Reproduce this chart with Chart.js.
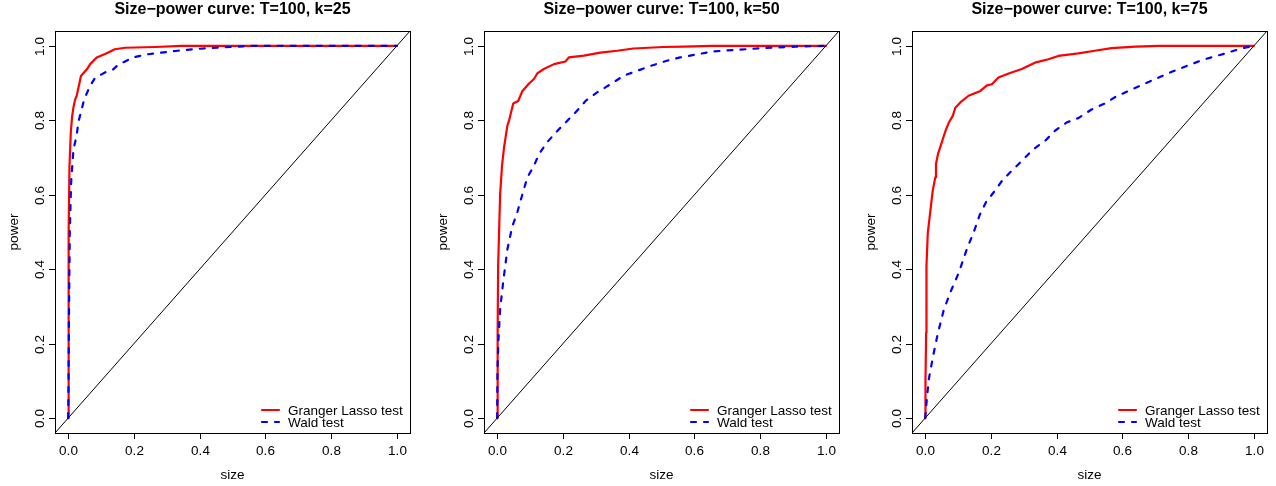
<!DOCTYPE html>
<html>
<head>
<meta charset="utf-8">
<script src="https://cdn.jsdelivr.net/npm/chart.js@4.4.1/dist/chart.umd.min.js"></script>
<style>
    html, body { margin: 0; padding: 0; background: #fff; }
    #wrap { position: relative; width: 1276px; height: 486px; overflow: hidden; }
    #wrap canvas { position: absolute; top: 0; }
</style>
</head>
<body>
<div id="wrap">
    <canvas id="p25" width="419" height="486" style="left:0px"></canvas>
    <canvas id="p50" width="419" height="486" style="left:429px"></canvas>
    <canvas id="p75" width="419" height="486" style="left:857px"></canvas>
</div>
<script>
// axis range / ticks (R style, 4% extension)
const AXIS_MIN = -0.04;
const AXIS_MAX = 1.04;
const TICKS = [0, 0.2, 0.4, 0.6, 0.8, 1.0];
const TICK_LABELS = ['0.0', '0.2', '0.4', '0.6', '0.8', '1.0'];
const DIAG = [AXIS_MIN, AXIS_MAX];

const SERIES_NAMES = ['Granger Lasso test', 'Wald test'];
const TITLES = ['Size\u2212power curve: T=100, k=25', 'Size\u2212power curve: T=100, k=50', 'Size\u2212power curve: T=100, k=75'];

// k = 25
const k25LassoSize = [0, 0.001, 0.002, 0.004, 0.008, 0.012, 0.016, 0.021, 0.026, 0.039, 0.057, 0.067, 0.087, 0.112, 0.122, 0.142, 0.173, 0.264, 0.345, 1.0];
const k25LassoPower = [0, 0.2, 0.5, 0.676, 0.766, 0.81, 0.834, 0.855, 0.866, 0.919, 0.937, 0.951, 0.969, 0.978, 0.982, 0.991, 0.995, 0.997, 1.0, 1.0];
const k25WaldSize = [0, 0.001, 0.003, 0.005, 0.009, 0.016, 0.026, 0.031, 0.036, 0.049, 0.067, 0.082, 0.117, 0.137, 0.152, 0.168, 0.198, 0.238, 0.284, 0.333, 0.394, 0.45, 0.56, 1.0];
const k25WaldPower = [0, 0.08, 0.32, 0.498, 0.632, 0.721, 0.76, 0.795, 0.812, 0.857, 0.893, 0.914, 0.931, 0.937, 0.949, 0.956, 0.969, 0.977, 0.982, 0.987, 0.992, 0.995, 1.0, 1.0];

// k = 50
const k50LassoSize = [0, 0.001, 0.002, 0.003, 0.006, 0.009, 0.015, 0.021, 0.031, 0.036, 0.049, 0.064, 0.077, 0.097, 0.112, 0.122, 0.142, 0.173, 0.208, 0.218, 0.264, 0.314, 0.365, 0.415, 0.506, 0.567, 0.655, 1.0];
const k50LassoPower = [0, 0.12, 0.23, 0.408, 0.504, 0.6, 0.68, 0.727, 0.785, 0.799, 0.845, 0.852, 0.879, 0.899, 0.911, 0.926, 0.938, 0.951, 0.958, 0.969, 0.974, 0.982, 0.987, 0.993, 0.997, 0.998, 1.0, 1.0];
const k50WaldSize = [0, 0.001, 0.004, 0.009, 0.018, 0.031, 0.046, 0.062, 0.077, 0.092, 0.112, 0.127, 0.152, 0.178, 0.208, 0.238, 0.269, 0.304, 0.345, 0.385, 0.426, 0.466, 0.516, 0.557, 0.655, 0.807, 0.908, 1.0];
const k50WaldPower = [0, 0.13, 0.211, 0.292, 0.363, 0.453, 0.515, 0.555, 0.602, 0.647, 0.678, 0.709, 0.741, 0.767, 0.794, 0.821, 0.852, 0.875, 0.897, 0.92, 0.933, 0.946, 0.96, 0.969, 0.985, 0.994, 0.998, 1.0];

// k = 75
const k75LassoSize = [0, 0.001, 0.003, 0.004, 0.008, 0.015, 0.023, 0.031, 0.033, 0.039, 0.052, 0.062, 0.072, 0.084, 0.092, 0.107, 0.132, 0.168, 0.188, 0.203, 0.223, 0.254, 0.294, 0.334, 0.375, 0.405, 0.466, 0.516, 0.567, 0.641, 0.712, 1.0];
const k75LassoPower = [0, 0.1, 0.229, 0.408, 0.497, 0.55, 0.611, 0.647, 0.683, 0.709, 0.745, 0.772, 0.794, 0.812, 0.834, 0.848, 0.866, 0.879, 0.894, 0.897, 0.915, 0.926, 0.938, 0.955, 0.964, 0.973, 0.98, 0.987, 0.994, 0.998, 1.0, 1.0];
const k75WaldSize = [0, 0.005, 0.011, 0.024, 0.039, 0.057, 0.080, 0.102, 0.128, 0.148, 0.166, 0.185, 0.208, 0.235, 0.264, 0.294, 0.329, 0.365, 0.395, 0.43, 0.466, 0.506, 0.546, 0.581, 0.672, 0.752, 0.843, 0.914, 0.965, 1.0];
const k75WaldPower = [0, 0.05, 0.104, 0.166, 0.229, 0.292, 0.345, 0.39, 0.457, 0.5, 0.546, 0.58, 0.606, 0.639, 0.665, 0.691, 0.722, 0.745, 0.772, 0.794, 0.806, 0.829, 0.845, 0.864, 0.9, 0.931, 0.962, 0.98, 0.994, 1.0];

const FONT = '"Liberation Sans", Arial, Helvetica, sans-serif';
const WALD_DASH = [5, 8];

const toPoints = (xs, ys) => xs.map((x, i) => ({ x, y: ys[i] }));

// draws box, ticks, labels, title and legend like base R graphics
const rFrame = {
    id: 'rFrame',
    afterDraw(chart) {
        const { ctx, chartArea: a, scales } = chart;
        const xs = scales.x;
        const ys = scales.y;
        const cx = (a.left + a.right) / 2;
        const cy = (a.top + a.bottom) / 2;

        ctx.save();
        ctx.strokeStyle = '#000';
        ctx.fillStyle = '#000';
        ctx.lineWidth = 1;
        ctx.setLineDash([]);
        ctx.strokeRect(Math.round(a.left) + 0.5, Math.round(a.top) + 0.5, Math.round(a.right - a.left), Math.round(a.bottom - a.top));

        ctx.font = '13.5px ' + FONT;
        ctx.textAlign = 'center';
        ctx.textBaseline = 'alphabetic';
        TICKS.forEach((v, i) => {
            const px = Math.round(xs.getPixelForValue(v)) + 0.5;
            ctx.beginPath();
            ctx.moveTo(px, a.bottom);
            ctx.lineTo(px, a.bottom + 6);
            ctx.stroke();
            ctx.fillText(TICK_LABELS[i], px, a.bottom + 22);

            const py = Math.round(ys.getPixelForValue(v)) + 0.5;
            ctx.beginPath();
            ctx.moveTo(a.left, py);
            ctx.lineTo(a.left - 6, py);
            ctx.stroke();
            ctx.save();
            ctx.translate(a.left - 11.5, py);
            ctx.rotate(-Math.PI / 2);
            ctx.fillText(TICK_LABELS[i], 0, 0);
            ctx.restore();
        });

        ctx.fillText('size', cx, a.bottom + 46);
        ctx.save();
        ctx.translate(a.left - 37, cy);
        ctx.rotate(-Math.PI / 2);
        ctx.fillText('power', 0, 0);
        ctx.restore();

        ctx.font = 'bold 16px ' + FONT;
        ctx.fillText(chart.options.plugins.rTitle.text, cx, 13.5);

        // legend, bottom right, no frame
        ctx.font = '13.5px ' + FONT;
        ctx.textAlign = 'left';
        chart.data.datasets
            .filter((ds) => ds.label)
            .forEach((ds, i) => {
                const ly = a.bottom - 23 + i * 12;
                ctx.strokeStyle = ds.borderColor;
                ctx.lineWidth = ds.borderWidth;
                ctx.lineCap = 'round';
                ctx.setLineDash(ds.borderDash || []);
                ctx.beginPath();
                ctx.moveTo(a.right - 148, ly);
                ctx.lineTo(a.right - 131, ly);
                ctx.stroke();
                ctx.setLineDash([]);
                ctx.fillStyle = '#000';
                ctx.fillText(ds.label, a.right - 122, ly + 5);
            });
        ctx.restore();
    },
};

function makePanel(id, title, lassoSize, lassoPower, waldSize, waldPower) {
    const canvas = document.getElementById(id);
    const ctx = canvas.getContext('2d');
    return new Chart(ctx, {
        type: 'line',
        data: {
            datasets: [
                {
                    label: SERIES_NAMES[0],
                    data: toPoints(lassoSize, lassoPower),
                    borderColor: '#FF0000',
                    borderWidth: 2.2,
                    borderCapStyle: 'round',
                    borderJoinStyle: 'round',
                    order: 3,
                },
                {
                    label: SERIES_NAMES[1],
                    data: toPoints(waldSize, waldPower),
                    borderColor: '#0000FF',
                    borderWidth: 2.2,
                    borderDash: WALD_DASH,
                    borderCapStyle: 'round',
                    borderJoinStyle: 'round',
                    order: 2,
                },
                {
                    label: '',
                    data: toPoints(DIAG, DIAG),
                    borderColor: '#000',
                    borderWidth: 1,
                    order: 1,
                },
            ],
        },
        options: {
            responsive: false,
            animation: false,
            devicePixelRatio: 1,
            layout: {
                padding: { left: 55, right: 9, top: 31, bottom: 53 },
            },
            elements: {
                point: { radius: 0, hoverRadius: 0 },
                line: { tension: 0, fill: false },
            },
            plugins: {
                legend: { display: false },
                tooltip: { enabled: false },
                rTitle: { text: title },
            },
            scales: {
                x: { type: 'linear', min: AXIS_MIN, max: AXIS_MAX, display: false },
                y: { type: 'linear', min: AXIS_MIN, max: AXIS_MAX, display: false },
            },
        },
        plugins: [rFrame],
    });
}

makePanel('p25', TITLES[0], k25LassoSize, k25LassoPower, k25WaldSize, k25WaldPower);
makePanel('p50', TITLES[1], k50LassoSize, k50LassoPower, k50WaldSize, k50WaldPower);
makePanel('p75', TITLES[2], k75LassoSize, k75LassoPower, k75WaldSize, k75WaldPower);
</script>
</body>
</html>
